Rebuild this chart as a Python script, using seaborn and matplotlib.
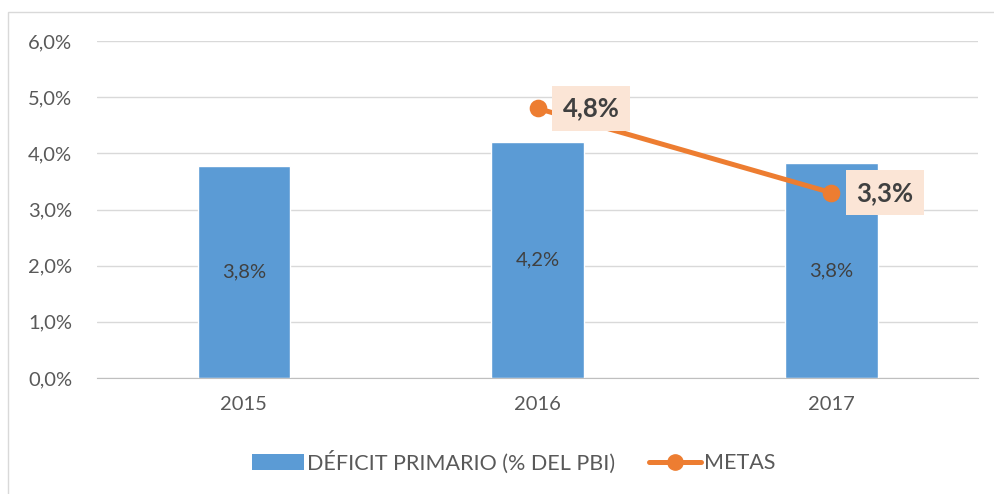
import matplotlib
matplotlib.use("Agg")
import matplotlib.pyplot as plt
import matplotlib.patches as mpatches
from matplotlib.lines import Line2D
from matplotlib.ticker import FuncFormatter
import numpy as np
import pandas as pd
import seaborn as sns

# data
years = ["2015", "2016", "2017"]
deficit = [3.78, 4.20, 3.82]
deficit_labels = ["3,8%", "4,2%", "3,8%"]
metas = [np.nan, 4.8, 3.3]
metas_labels = ["", "4,8%", "3,3%"]

blue = "#5B9BD5"
orange = "#ED7D31"
text_grey = "#595959"

sns.set_style("white")
plt.rcParams["font.family"] = ["Lato", "DejaVu Sans"]

df = pd.DataFrame({"year": years, "deficit": deficit, "metas": metas})

fig = plt.figure(figsize=(9.94, 4.94), dpi=100)
ax = fig.add_axes([0.0976, 0.2348, 0.8864, 0.6822])

# outer chart frame
fig.patches.append(mpatches.Rectangle((8 / 994, -0.01), 1.0, 1 - 12 / 494 + 0.01,
                                      transform=fig.transFigure, fill=False,
                                      edgecolor="#D9D9D9", linewidth=1))

sns.barplot(data=df, x="year", y="deficit", order=years, color=blue,
            width=0.315, saturation=1, ax=ax, zorder=2)
sns.pointplot(data=df, x="year", y="metas", order=years, color=orange,
              errorbar=None, markers="o", markersize=10, linewidth=3.6, ax=ax,
              zorder=4)

# labels inside bars
for i, (v, lab) in enumerate(zip(deficit, deficit_labels)):
    ax.text(i, v / 2, lab, ha="center", va="center", fontsize=14.5,
            color="#404040", zorder=5)

# labels for targets
for i, (v, lab) in enumerate(zip(metas, metas_labels)):
    if lab:
        ax.annotate(lab, xy=(i, v), xytext=(18, 0), textcoords="offset points",
                    ha="left", va="center", fontsize=18.5, fontweight="bold",
                    color="#404040", zorder=6,
                    bbox=dict(boxstyle="square,pad=0.4", facecolor="#FBE5D6",
                              edgecolor="none"))

ax.set_ylim(0, 6.0)
ax.set_yticks(np.arange(0, 6.01, 1.0))
ax.yaxis.set_major_formatter(FuncFormatter(lambda v, p: f"{v:.1f}%".replace(".", ",")))
ax.set_xlim(-0.5, 2.5)
ax.grid(axis="y", color="#D9D9D9", linewidth=1, zorder=0)
ax.set_axisbelow(True)
for side in ["top", "right", "left"]:
    ax.spines[side].set_visible(False)
ax.spines["bottom"].set_color("#BFBFBF")
ax.tick_params(axis="both", length=0, labelsize=14.5, colors=text_grey)
ax.tick_params(axis="x", pad=13)
ax.tick_params(axis="y", pad=18)
ax.set_xlabel("")
ax.set_ylabel("")

handles = [mpatches.Patch(facecolor=blue, edgecolor="none"),
           Line2D([0], [0], color=orange, linewidth=3.6, marker="o", markersize=11)]
fig.legend(handles, ["DÉFICIT PRIMARIO (% DEL PBI)", "METAS"], loc="center",
           bbox_to_anchor=(0.517, 0.065), ncol=2, frameon=False, fontsize=15.5,
           labelcolor=text_grey, handlelength=2.4, handleheight=0.75,
           handletextpad=0.15, columnspacing=1.6)

fig.savefig("out.png", dpi=100)
